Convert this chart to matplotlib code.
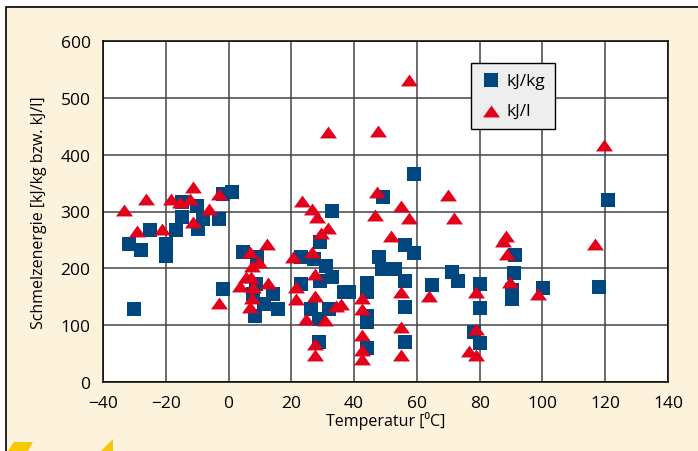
import matplotlib.pyplot as plt
from matplotlib.patches import Rectangle, Polygon
from matplotlib.path import Path

# kJ/kg values (squares)
temp_kg = [-14.9, -10.2, -14.9, -8.3, -2.9, -1.9, 1.0, -25.1, -16.8, -9.8, -31.7, -27.9, -20, -20, -1.9, -30.2,
           4.5, 9.2, 29.2, 23.2, 27.3, 31.1, 33.0, 29.2, 23.2, 8.9, 7.9, 14.0, 36.8, 38.4, 11.4, 15.6, 8.3,
           26.3, 32.1, 28.9, 28.9, 33.0,
           59.0, 49.2, 56.2, 59.0, 47.9, 48.9, 53.0, 71.1, 73.0, 64.8, 56.2, 44.1, 44.1, 44.1, 44.1, 56.2, 56.2, 44.1,
           91.1, 90.8, 90.2, 90.2, 100.3, 80, 80, 78.1, 80, 121, 118]
val_kg = [316, 310, 290, 287, 287, 331, 334, 267, 267, 269, 243, 232, 243, 222, 164, 128,
          229, 220, 246, 220, 216, 204, 185, 178, 172, 172, 155, 155, 158, 158, 137, 128, 116,
          128, 128, 111, 70, 301,
          366, 326, 241, 227, 220, 199, 199, 193, 178, 171, 178, 174, 158, 116, 106, 132, 70, 60,
          223, 192, 162, 146, 165, 172, 130, 88, 69, 320, 167]

# kJ/l values (triangles)
temp_l = [-33.3, -26.3, -18.4, -11.4, -15.6, -12.4, -3.2, -6.3, -11.4, -29.2, -21.3, -3.2,
          23.5, 26.7, 28.3, 29.5, 31.7, 12.4, 6.7, 9.8, 7.6, 20.6, 26.7, 27.6, 5.7, 7.3, 3.5, 7.9, 12.7,
          21.6, 7.6, 21.6, 27.6, 6.7, 34.3, 35.9, 24.8, 30.8, 27.6, 27.6,
          57.5, 47.6, 31.7, 47.3, 54.9, 69.8, 46.7, 57.5, 71.7, 51.7, 63.8, 54.9, 42.5, 42.5, 42.5, 54.9,
          42.5, 42.5, 54.9,
          88.5, 87.5, 88.6, 89.8, 98.7, 78.7, 78.7, 76.5, 78.7, 119.7, 116.8]
val_l = [302, 322, 322, 343, 317, 322, 331, 304, 281, 266, 269, 139,
         318, 304, 290, 262, 271, 243, 229, 211, 204, 220, 229, 190, 185, 185, 169, 167, 174,
         167, 148, 146, 151, 132, 134, 137, 111, 109, 67, 48,
         531, 442, 440, 334, 310, 329, 294, 288, 288, 257, 151, 158, 148, 128, 83, 97,
         56, 40, 48,
         257, 248, 225, 176, 155, 158, 93, 55, 48, 417, 243]

x_ticks = [-40, -20, 0, 20, 40, 60, 80, 100, 120, 140]
y_ticks = [0, 100, 200, 300, 400, 500, 600]

cream = '#fdf3dc'
blue = '#00467f'
red = '#e2001a'

plt.rcParams['font.family'] = ['Open Sans', 'DejaVu Sans']

fig = plt.figure(figsize=(6.98, 4.52), dpi=100, facecolor='white')

# cream panel with black border on left/top
fig.patches.append(Rectangle((6 / 698, -0.1), 1.2, 1.1 - 8 / 452, transform=fig.transFigure,
                             facecolor=cream, edgecolor='black', lw=1.2, zorder=-5))
# yellow logo fragments bottom left
fig.patches.append(Polygon([(8 / 698, 0), (28 / 698, 0), (33 / 698, 9 / 452), (14 / 698, 9 / 452)],
                           closed=True, transform=fig.transFigure, facecolor='#f5c800', edgecolor='none'))
fig.patches.append(Polygon([(101 / 698, 0), (113 / 698, 0), (113 / 698, 12 / 452)],
                           closed=True, transform=fig.transFigure, facecolor='#f5c800', edgecolor='none'))

ax = fig.add_axes([103 / 698, 1 - 383 / 452, 565 / 698, 341 / 452])
ax.set_facecolor('white')

tri = Path([(-1, -0.7), (1, -0.7), (0, 0.7), (-1, -0.7)])

ax.scatter(temp_kg, val_kg, marker='s', s=100, color=blue, linewidths=0, label='kJ/kg', zorder=3)
ax.scatter(temp_l, val_l, marker=tri, s=150, color=red, linewidths=0, label='kJ/l', zorder=4)

ax.set_xlim(-40, 140)
ax.set_ylim(0, 600)
ax.set_xticks(x_ticks)
ax.set_yticks(y_ticks)
ax.grid(True, color='#444444', lw=1.1)
ax.set_axisbelow(True)
ax.tick_params(axis='x', length=0, labelsize=12.5, pad=9)
ax.tick_params(axis='y', length=0, labelsize=12.5, pad=9)
for s in ax.spines.values():
    s.set_color('black')
    s.set_linewidth(1.1)

ax.set_xlabel('Temperatur [⁰C]', fontsize=11.5, labelpad=0)
ax.set_ylabel('Schmelzenergie [kJ/kg bzw. kJ/l]', fontsize=11.5, labelpad=10)

leg = ax.legend(loc='upper left', bbox_to_anchor=(0.636, 0.96), fontsize=12.5, frameon=True,
                fancybox=False, edgecolor='black', facecolor='#eeeeee', framealpha=1,
                handletextpad=0.3, borderpad=0.55, labelspacing=0.8, handlelength=1.2)
leg.get_frame().set_linewidth(1.0)

fig.savefig('out.png', dpi=100, facecolor=fig.get_facecolor())
